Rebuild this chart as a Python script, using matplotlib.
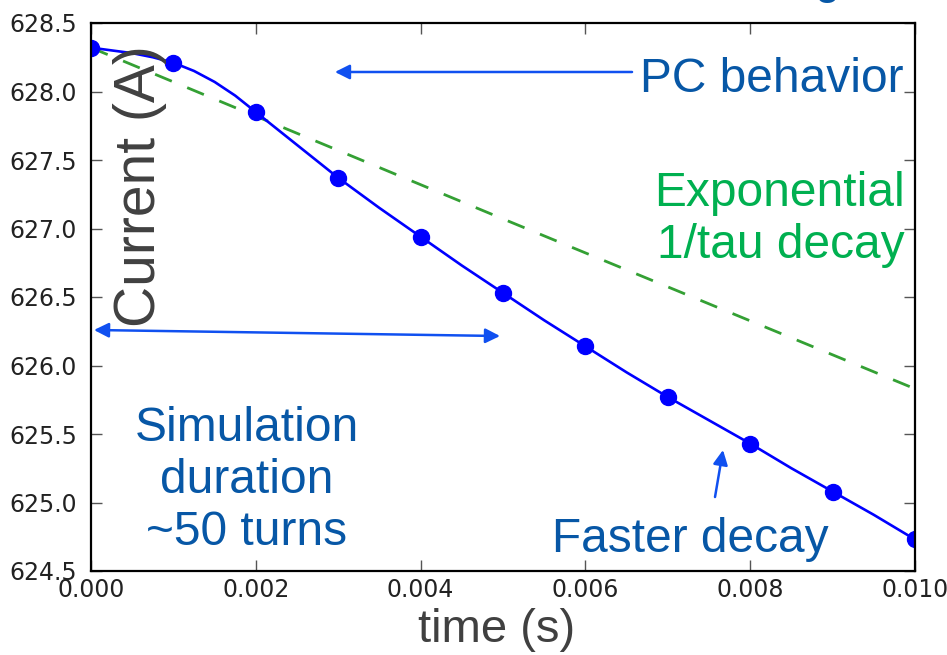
import numpy as np
import matplotlib.pyplot as plt
from matplotlib.ticker import FormatStrFormatter

# simulated current curve
curve_t = [0.0, 0.00025, 0.0005, 0.00075, 0.001, 0.00125, 0.0015, 0.00175,
           0.002, 0.0025, 0.003, 0.0035, 0.004, 0.0045, 0.005, 0.0055, 0.006,
           0.0065, 0.007, 0.0075, 0.008, 0.0085, 0.009, 0.0095, 0.010]
curve_i = [628.32, 628.30, 628.28, 628.25, 628.21, 628.15, 628.07, 627.97,
           627.85, 627.61, 627.37, 627.15, 626.94, 626.73, 626.53, 626.33,
           626.14, 625.95, 625.77, 625.60, 625.43, 625.25, 625.08, 624.91,
           624.73]

# sample points (markers), every 1 ms
marker_t = [0.0, 0.001, 0.002, 0.003, 0.004, 0.005, 0.006, 0.007, 0.008,
            0.009, 0.010]
marker_i = [628.32, 628.21, 627.85, 627.37, 626.94, 626.53, 626.14, 625.77,
            625.43, 625.08, 624.73]

# exponential 1/tau reference
exp_time = [0.0, 0.005, 0.010]
exp_current = [628.32, 627.07, 625.83]

xticks = [0.0, 0.002, 0.004, 0.006, 0.008, 0.010]
yticks = [624.5, 625.0, 625.5, 626.0, 626.5, 627.0, 627.5, 628.0, 628.5]

txt_blue = '#0757a6'
txt_green = '#00b050'
arr_blue = '#1050f0'
grey = '#404040'
font = 'Liberation Sans'

fig = plt.figure(figsize=(9.47, 6.55), dpi=100)
ax = fig.add_axes([91/947, 1-571/655, 824/947, 548/655])

ax.plot(exp_time, exp_current, color='#34a034', ls='--', lw=2, dashes=(6.5, 6))
ax.plot(curve_t, curve_i, color='b', lw=1.9)
ax.plot(marker_t, marker_i, ls='none', marker='o', ms=11.5, color='b')

ax.set_xlim(0, 0.010)
ax.set_ylim(624.5, 628.5)
ax.set_xticks(xticks)
ax.set_yticks(yticks)
ax.xaxis.set_major_formatter(FormatStrFormatter('%.3f'))
ax.yaxis.set_major_formatter(FormatStrFormatter('%.1f'))
ax.tick_params(direction='in', length=8, width=1, color='#555555',
               top=True, right=True, labelsize=17, labelcolor='#222222')
ax.tick_params(axis='y', pad=10)
ax.tick_params(axis='x', pad=5)
for s in ax.spines.values():
    s.set_linewidth(1.6)

# overlay labels
ax.text(0.0595, 0.7026, 'Current (A)', transform=ax.transAxes, rotation=90,
        ha='center', va='center', fontsize=41, color=grey, family=font)
fig.text(497/947, 1-630/655, 'time (s)', ha='center', va='center',
         fontsize=34, color=grey, family=font)

ax.text(0.6663, 0.8960, 'PC behavior', transform=ax.transAxes, ha='left',
        va='center', fontsize=34.5, color=txt_blue, family=font, clip_on=False)
ax.text(0.9879, 0.6423, 'Exponential\n1/tau decay', transform=ax.transAxes,
        ha='right', va='center', multialignment='right', fontsize=34.5,
        color=txt_green, family=font)
ax.text(0.1893, 0.1660, 'Simulation\nduration\n~50 turns', transform=ax.transAxes,
        ha='center', va='center', multialignment='center', fontsize=34.5,
        color=txt_blue, family=font)
ax.text(0.727, 0.058, 'Faster decay', transform=ax.transAxes, ha='center',
        va='center', fontsize=34.5, color=txt_blue, family=font)

# arrows
ax.annotate('', xy=(0.296, 0.9106), xytext=(0.6566, 0.9106), xycoords='axes fraction',
            arrowprops=dict(arrowstyle='-|>', color=arr_blue, lw=1.8,
                            mutation_scale=22, shrinkA=0, shrinkB=0))
ax.annotate('', xy=(0.0036, 0.4398), xytext=(0.4964, 0.4288), xycoords='axes fraction',
            arrowprops=dict(arrowstyle='<|-|>', color=arr_blue, lw=1.8,
                            mutation_scale=22, shrinkA=0, shrinkB=0))
ax.annotate('', xy=(0.767, 0.2208), xytext=(0.7573, 0.135), xycoords='axes fraction',
            arrowprops=dict(arrowstyle='-|>', color=arr_blue, lw=1.8,
                            mutation_scale=22, shrinkA=0, shrinkB=0))

# bit of the slide title cut off at the top
fig.text(0.873, 1.0107, 'g', ha='center', va='baseline', fontsize=33,
         color=txt_blue, family=font)

fig.savefig('out.png', dpi=100)
